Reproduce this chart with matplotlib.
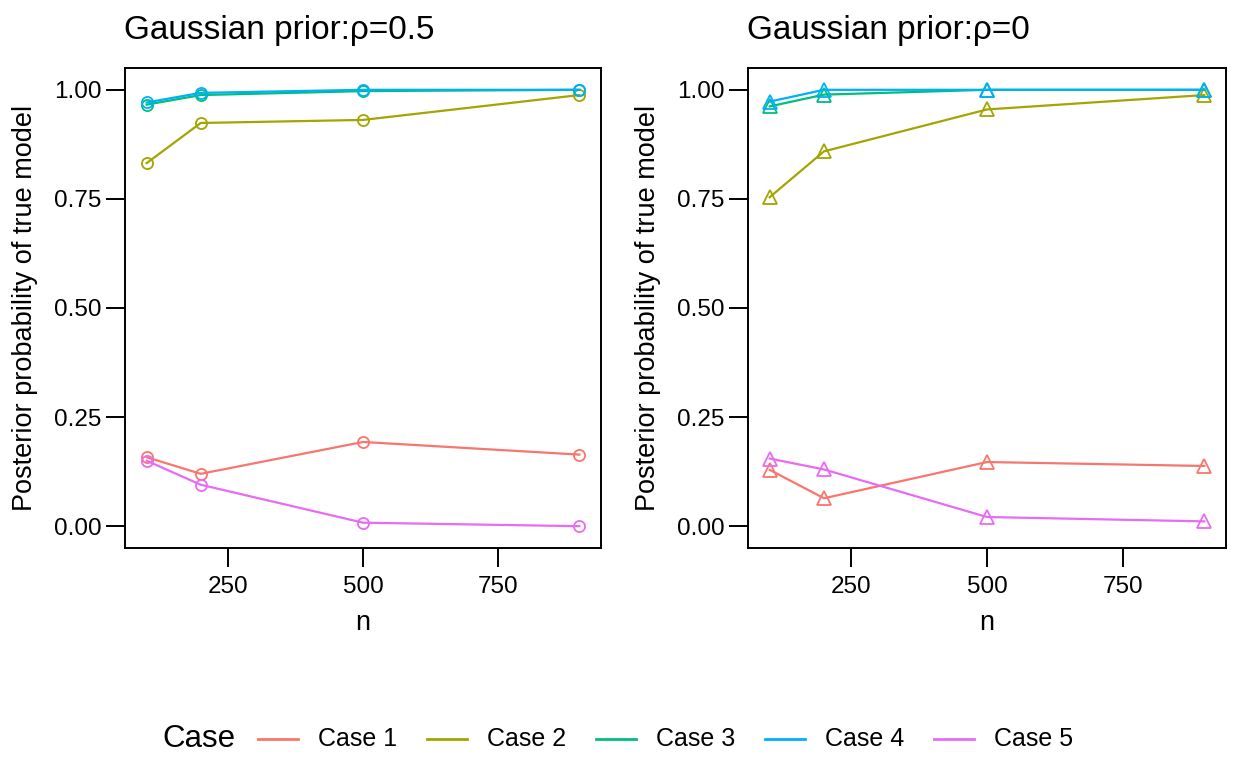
import numpy as np
import matplotlib.pyplot as plt
from matplotlib.lines import Line2D

plt.rcParams['font.family'] = ['Liberation Sans', 'DejaVu Sans']

n = [100, 200, 500, 900]
cases = ["Case 1", "Case 2", "Case 3", "Case 4", "Case 5"]
colors = ["#F8766D", "#A3A500", "#00BF7D", "#00B0F6", "#E76BF3"]

# rho = 0.5
rho05 = {
    "Case 1": [0.158, 0.120, 0.193, 0.164],
    "Case 2": [0.832, 0.924, 0.931, 0.988],
    "Case 3": [0.966, 0.988, 0.997, 1.000],
    "Case 4": [0.971, 0.993, 1.000, 1.000],
    "Case 5": [0.150, 0.095, 0.008, 0.000],
}
# rho = 0
rho0 = {
    "Case 1": [0.129, 0.064, 0.147, 0.138],
    "Case 2": [0.754, 0.859, 0.955, 0.988],
    "Case 3": [0.962, 0.989, 1.000, 1.000],
    "Case 4": [0.973, 1.000, 1.000, 1.000],
    "Case 5": [0.155, 0.130, 0.021, 0.011],
}

W, H = 1233, 759
fig = plt.figure(figsize=(W / 100, H / 100), dpi=100)
ax1 = fig.add_axes([125 / W, 1 - 548 / H, 476 / W, 480 / H])
ax2 = fig.add_axes([748 / W, 1 - 548 / H, 478 / W, 480 / H])

panels = [(ax1, rho05, "o", 8, "Gaussian prior:\u03c1=0.5"),
          (ax2, rho0, "^", 9.5, "Gaussian prior:\u03c1=0")]

for ax, data, mk, ms, title in panels:
    for c, col in zip(cases, colors):
        ax.plot(n, data[c], color=col, lw=1.6, marker=mk, ms=ms,
                mfc="none", mec=col, mew=1.3)
    ax.set_xlim(60, 940)
    ax.set_ylim(-0.05, 1.05)
    ax.set_xticks([250, 500, 750])
    ax.set_yticks([0, 0.25, 0.5, 0.75, 1.0])
    ax.set_yticklabels(["0.00", "0.25", "0.50", "0.75", "1.00"])
    ax.tick_params(axis="both", labelsize=17.5, length=14, width=1.4,
                   color="black", labelcolor="black", direction="out", pad=3)
    ax.tick_params(axis="x", pad=6)
    for s in ax.spines.values():
        s.set_linewidth(1.4)
        s.set_color("black")
    ax.set_xlabel("n", fontsize=19.5, labelpad=9)
    ax.set_ylabel("Posterior probability of true model", fontsize=19.5, labelpad=11)
    ax.set_title(title, fontsize=24, loc="left", pad=21, x=-0.003)

# legend, laid out like the ggplot bottom guide
ly = 1 - 739 / H
fig.text(162 / W, ly, "Case", fontsize=22.5, va="center", ha="left")
for i, (c, col) in enumerate(zip(cases, colors)):
    x0 = 258 + 169 * i
    fig.add_artist(Line2D([x0 / W, (x0 + 40) / W], [ly, ly], color=col, lw=2,
                          transform=fig.transFigure))
    fig.text((x0 + 60) / W, ly, c, fontsize=18, va="center", ha="left")

fig.savefig("out.png", dpi=100)
